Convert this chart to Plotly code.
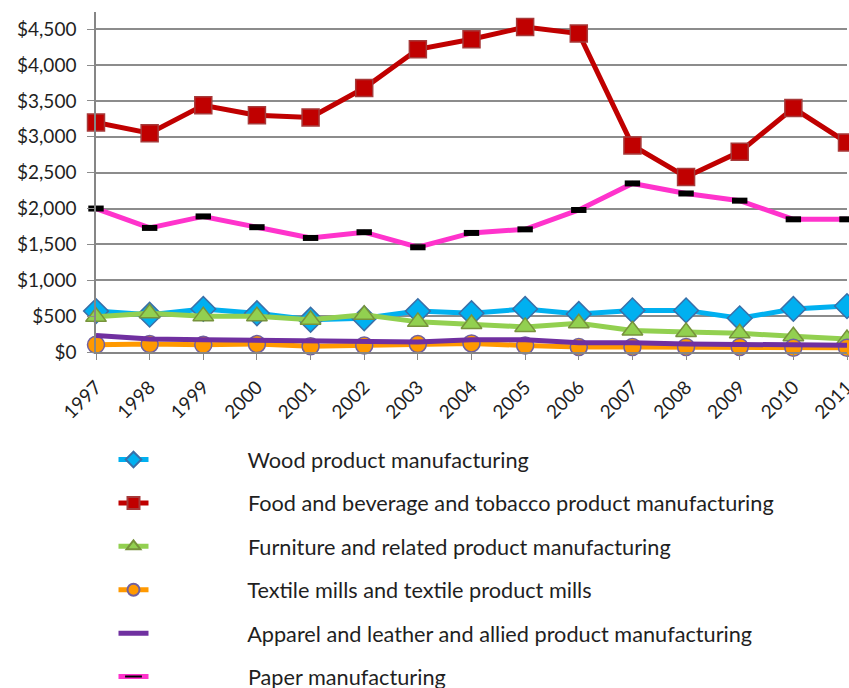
import plotly.graph_objects as go

# years on the x axis
years = [str(y) for y in range(1997, 2012)]

# values (dollars)
wood = [570, 520, 600, 540, 450, 470, 570, 540, 600, 530, 580, 580, 470, 600, 640]
food = [3200, 3050, 3440, 3300, 3270, 3680, 4220, 4360, 4530, 4440, 2880, 2440, 2790, 3400, 2920]
furniture = [490, 540, 500, 500, 450, 520, 420, 390, 350, 400, 300, 280, 260, 220, 180]
textile = [100, 110, 100, 110, 80, 90, 110, 120, 90, 70, 70, 70, 70, 60, 60]
apparel = [230, 180, 170, 160, 150, 150, 140, 170, 170, 130, 130, 110, 110, 100, 95]
paper = [2000, 1730, 1890, 1740, 1590, 1670, 1460, 1660, 1710, 1980, 2350, 2210, 2110, 1850, 1850]

series_names = [
    "Wood product manufacturing",
    "Food and beverage and tobacco product manufacturing",
    "Furniture and related product manufacturing",
    "Textile mills and textile product mills",
    "Apparel and leather and allied product manufacturing",
    "Paper manufacturing",
]

FONT = "Lato"
TEXT = "#1f1f1f"
PAD = "\u00a0" * 17

fig = go.Figure()


def add_series(values, name, color, marker):
    fig.add_trace(go.Scatter(
        x=years, y=values, name=PAD + name, legendgroup=name,
        mode="lines+markers" if marker else "lines",
        line=dict(color=color, width=5),
        marker=marker or {},
        cliponaxis=False,
    ))


add_series(wood, series_names[0], "#00B0F0",
           dict(symbol="diamond", size=19, color="#00B0F0", line=dict(color="#3A6FA8", width=1.5)))
add_series(food, series_names[1], "#C00000",
           dict(symbol="square", size=17, color="#C00000", line=dict(color="#A63A3A", width=1.5)))
add_series(furniture, series_names[2], "#92D050",
           dict(symbol="triangle-up", size=18, color="#92D050", line=dict(color="#77933C", width=1.5)))
add_series(textile, series_names[3], "#FF9900",
           dict(symbol="circle", size=17, color="#FF9900", line=dict(color="#7060A0", width=1.5)))
add_series(apparel, series_names[4], "#7030A0", None)
add_series(paper, series_names[5], "#FF33CC",
           dict(symbol="line-ew", size=11, color="black", line=dict(color="black", width=6)))

fig.update_xaxes(
    type="category", range=[0, 14], tickangle=-45, automargin=False,
    showgrid=False, showline=True, linecolor="#868686", linewidth=1.5,
    ticks="outside", ticklen=6, tickcolor="#868686", ticklabelstandoff=9,
    tickfont=dict(family=FONT, size=19, color=TEXT),
)
fig.update_yaxes(
    range=[0, 4740], dtick=500, tickprefix="$", tickformat=",", automargin=False,
    showgrid=True, gridcolor="#8c8c8c", gridwidth=1.5,
    showline=True, linecolor="#868686", linewidth=1.5,
    ticks="outside", ticklen=7, tickcolor="#8c8c8c", ticklabelstandoff=7,
    tickfont=dict(family=FONT, size=19, color=TEXT), zeroline=False,
)

fig.update_layout(
    width=849, height=688,
    margin=dict(l=96, r=2, t=12, b=336),
    plot_bgcolor="white", paper_bgcolor="white",
    font=dict(family=FONT, color=TEXT),
    legend=dict(
        xref="paper", yref="container",
        x=0.0233, y=0.362, xanchor="left", yanchor="top",
        font=dict(family=FONT, size=21.7, color=TEXT),
        tracegroupgap=12.2, itemsizing="constant",
        bgcolor="rgba(0,0,0,0)",
    ),
    showlegend=True,
)

# drop the default page margin so the figure sits at the window's corner
fig.write_html(
    "out.html",
    config={"displayModeBar": False},
    post_script="document.body.style.margin = '0';",
)
